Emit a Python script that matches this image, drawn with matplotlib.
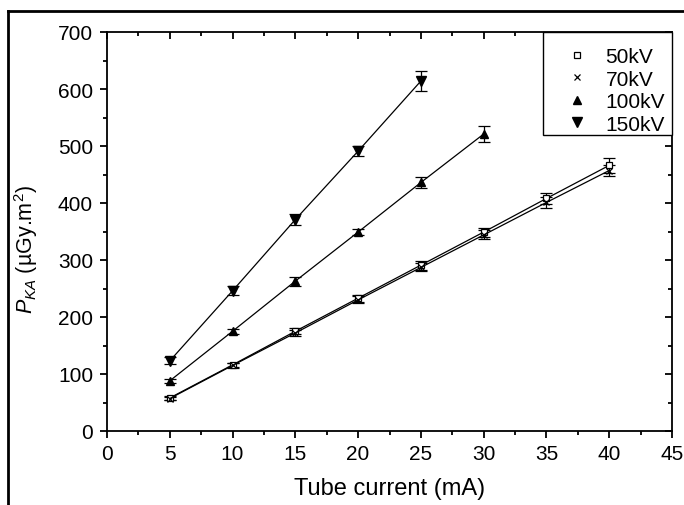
import matplotlib.pyplot as plt
from matplotlib.lines import Line2D
from matplotlib.patches import Rectangle
from matplotlib.ticker import MultipleLocator

plt.rcParams['font.family'] = ['Liberation Sans', 'DejaVu Sans']
plt.rcParams['mathtext.fontset'] = 'custom'
plt.rcParams['mathtext.rm'] = 'Liberation Sans'
plt.rcParams['mathtext.it'] = 'Liberation Sans:italic'

# tube current (mA)
current = [5, 10, 15, 20, 25, 30, 35, 40]

# P_KA values (uGy.m2) and error bars for each tube voltage
pka_50 = [58, 116, 175, 233, 291, 349, 408, 466]
err_50 = [3, 4, 5, 6, 8, 8, 10, 13]
pka_70 = [57, 115, 172, 230, 287, 344, 401, 457]
err_70 = [3, 4, 5, 6, 7, 8, 9, 9]
pka_100 = [88, 175, 263, 349, 436, 521]
err_100 = [4, 4, 8, 6, 9, 14]
pka_150 = [123, 246, 371, 491, 614]
err_150 = [6, 8, 10, 9, 18]

fig = plt.figure(figsize=(6.84, 5.06), dpi=100)
ax = fig.add_axes([107/684, 1 - 432/506, 565/684, 399/506])

ekw = dict(color='black', ecolor='black', elinewidth=0.9, capsize=4, capthick=0.9, lw=0.9)
ax.errorbar(current, pka_50, yerr=err_50, marker='s', ms=4, mfc='white', mec='black', mew=0.9, label='50kV', **ekw)
ax.errorbar(current, pka_70, yerr=err_70, marker='x', ms=5, mew=0.9, label='70kV', **ekw)
ax.errorbar(current[:6], pka_100, yerr=err_100, marker='^', ms=6, mfc='black', mec='black', label='100kV', **ekw)
ax.errorbar(current[:5], pka_150, yerr=err_150, marker='v', ms=7, mfc='black', mec='black', label='150kV', **ekw)

ax.set_xlim(0, 45)
ax.set_ylim(0, 700)
ax.xaxis.set_major_locator(MultipleLocator(5))
ax.xaxis.set_minor_locator(MultipleLocator(2.5))
ax.yaxis.set_major_locator(MultipleLocator(100))
ax.yaxis.set_minor_locator(MultipleLocator(50))
ax.tick_params(which='both', direction='out', width=1.3, labelsize=15, top=True, right=True)
ax.tick_params(axis='x', which='major', length=5, pad=4.5)
ax.tick_params(axis='y', which='major', length=5, pad=5)
ax.tick_params(which='minor', length=3)
for s in ax.spines.values():
    s.set_linewidth(1.3)

# mirror ticks on top/right point inward like the original
for t in ax.xaxis.get_major_ticks() + ax.xaxis.get_minor_ticks():
    t.tick2line.set_marker(3)
for t in ax.yaxis.get_major_ticks() + ax.yaxis.get_minor_ticks():
    t.tick2line.set_marker(0)

ax.set_xlabel('Tube current (mA)', fontsize=17)
ax.set_ylabel(r'$P_{KA}$ (µGy.m$^2$)', fontsize=15.5)
ax.xaxis.set_label_coords(0.5, -(478 - 432) / 399)
ax.yaxis.set_label_coords(-0.118, 0.456)

# legend box like the original (drawn separately, legend text inside)
ax.add_patch(Rectangle((0.7717, 0.7419), 0.2283, 0.2581, transform=ax.transAxes,
                       facecolor='white', edgecolor='black', lw=1.0, zorder=4, clip_on=False))
handles, labels = ax.get_legend_handles_labels()
handles = [h[0] for h in handles]
leg = ax.legend(handles, labels, loc='upper left', bbox_to_anchor=(0.8135, 0.962), frameon=False,
                fontsize=15, handlelength=1.0, handletextpad=0.87,
                labelspacing=0.17, borderaxespad=0, borderpad=0)
leg.set_zorder(5)
for h in leg.legend_handles:
    h.set_linestyle('none')

# outer frame of the picture
fig.add_artist(Line2D([8/684, 8/684], [0, 1 - 12/506], color='black', lw=2))
fig.add_artist(Line2D([8/684, 1], [1 - 12/506, 1 - 12/506], color='black', lw=2))

fig.savefig('out.png', dpi=100)
